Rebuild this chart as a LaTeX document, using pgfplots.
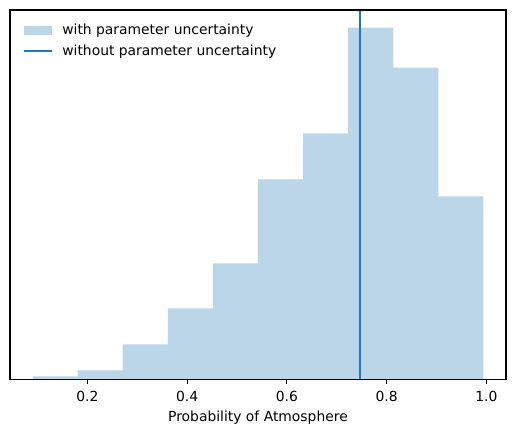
\documentclass[border=0pt]{standalone}
\usepackage{fontspec}
\setmainfont{DejaVu Sans}
\usepackage{pgfplots}
\pgfplotsset{compat=1.18}
\definecolor{c0}{HTML}{1F77B4}
\definecolor{c0light}{RGB}{188,214,233}
\begin{document}
\begin{tikzpicture}
\begin{axis}[
  scale only axis,
  width=357.4pt, height=266.1pt,
  xmin=0.0449, xmax=1.0393,
  ymin=0, ymax=369.6,
  axis line style={line width=0.8pt},
  ytick=\empty,
  xtick={0.2,0.4,0.6,0.8,1.0},
  xticklabels={0.2,0.4,0.6,0.8,1.0},
  xtick pos=bottom,
  tick align=outside,
  major tick length=3.5pt,
  every tick/.style={black, line width=0.8pt},
  /pgf/number format/assume math mode=true,
  tick label style={font=\fontsize{10}{12}\selectfont},
  xticklabel style={yshift=-1.2pt},
  label style={font=\fontsize{10}{12}\selectfont},
  xlabel={Probability of Atmosphere},
  legend style={draw=none, fill=none, at={(0,1)}, anchor=north west,
    xshift=6pt, yshift=-6pt, font=\fontsize{10}{12}\selectfont,
    row sep=2pt, column sep=5pt, cells={anchor=west}},
  legend cell align=left,
]
\addplot[ybar interval, fill=c0light, draw=none,
  legend image code/.code={\fill[c0light] (0pt,-3.5pt) rectangle (20pt,3.5pt);}]
coordinates {
(0.0901,3) (0.1805,9) (0.2709,35) (0.3613,71) (0.4517,116)
(0.5421,200) (0.6325,246) (0.7229,352) (0.8133,312) (0.9037,183) (0.9941,183)
};
\addlegendentry{with parameter uncertainty}
\addplot[c0, line width=1.5pt,
  legend image code/.code={\draw[c0, line width=1.5pt] (0pt,0pt) -- (20pt,0pt);}]
coordinates {(0.747,0) (0.747,369.6)};
\addlegendentry{without parameter uncertainty}
\draw[black, line width=0.8pt] (rel axis cs:0,0) rectangle (rel axis cs:1,1);
\end{axis}
\path ([shift={(-7.2pt,-38.9pt)}]current axis.south west) rectangle ([shift={(6.5pt,7.2pt)}]current axis.north east);
\end{tikzpicture}
\end{document}
